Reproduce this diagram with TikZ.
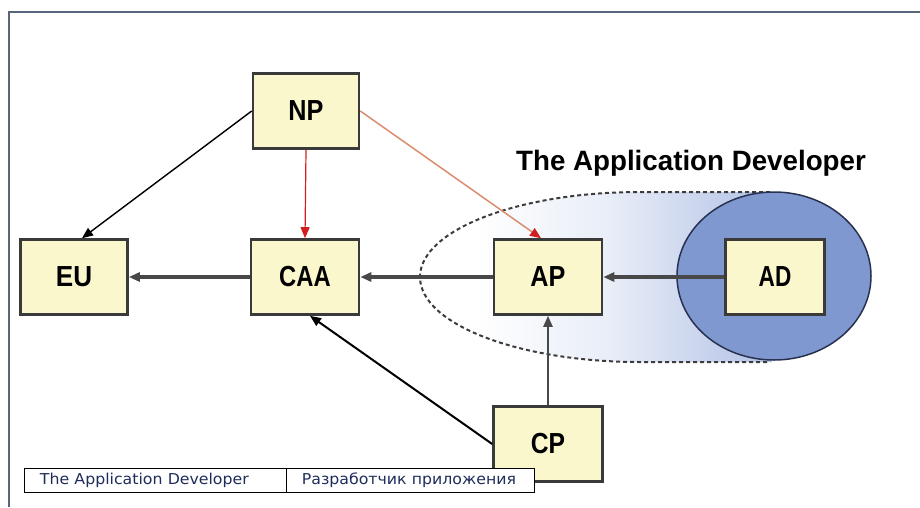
\documentclass[tikz,border=0pt]{standalone}
\usepackage{fontspec}
\setmainfont{Liberation Sans}
\newfontfamily\tablefont{DejaVu Sans}
\usetikzlibrary{arrows.meta}

\definecolor{boxfill}{RGB}{250,247,205}
\definecolor{boxline}{RGB}{58,58,58}
\definecolor{framecol}{RGB}{90,100,122}
\definecolor{devblue}{RGB}{128,152,208}
\definecolor{devedge}{RGB}{40,50,80}
\definecolor{fadeblue}{RGB}{178,193,230}
\definecolor{fadelight}{RGB}{232,237,247}
\definecolor{dashcol}{RGB}{60,60,60}
\definecolor{tipred}{RGB}{210,30,30}
\definecolor{salmonline}{RGB}{220,140,110}
\definecolor{linkgray}{RGB}{72,72,72}
\definecolor{tabletext}{RGB}{30,45,90}

% left-to-right fade behind the developer group
\pgfdeclarehorizontalshading{devfade}{100bp}{color(0bp)=(white); color(33bp)=(white); color(52bp)=(fadelight); color(75bp)=(fadeblue); color(100bp)=(fadeblue)}

\tikzset{
  actor/.style={draw=boxline, line width=2.6pt, fill=boxfill, minimum height=75pt,
    inner sep=0pt, font=\fontsize{29}{29}\selectfont\bfseries},
  tip/.style={-{Triangle[length=11pt,width=9pt]}},
  thinlink/.style={tip, draw=black, line width=1.4pt},
  flowlink/.style={tip, draw=linkgray, line width=3.2pt},
  uplink/.style={tip, draw=linkgray, line width=2.4pt},
  redlink/.style={-{Triangle[length=11pt,width=9pt,color=tipred]}, draw=tipred, line width=1.2pt},
  salmonlink/.style={-{Triangle[length=11pt,width=9pt,color=tipred]}, draw=salmonline, line width=1.5pt},
  cell/.style={draw=black, line width=0.9pt, fill=white, minimum height=24pt, inner ysep=0pt,
    align=left, text=tabletext, font=\tablefont\fontsize{15}{15}\selectfont},
}
\newcommand{\squeeze}[2]{\scalebox{#1}[1]{#2}}
\newcommand{\wide}[1]{\scalebox{1.05}[1]{#1}}

\begin{document}
\begin{tikzpicture}[x=1pt,y=-1pt]
  \useasboundingbox (0,0) rectangle (920,507);

  % outer frame (left and top edges)
  \draw[framecol, line width=1.6pt] (9,507) -- (9,12) -- (920,12);

  % developer group: faded capsule, dashed outline, solid ellipse
  \path[shading=devfade] (772,192) -- (640,192)
     arc[start angle=90, end angle=270, x radius=220pt, y radius=85pt] -- (772,362) -- cycle;
  \draw[dashcol, line width=2pt, dash pattern=on 4pt off 3pt] (770,192) -- (640,192)
     arc[start angle=90, end angle=270, x radius=220pt, y radius=85pt] -- (770,362);
  \draw[devedge, line width=1.5pt, fill=devblue] (774,276) ellipse[x radius=97pt, y radius=84pt];

  \node[font=\fontsize{28}{28}\selectfont\bfseries] (title) at (691,163) {\squeeze{0.99}{The Application Developer}};

  % actors
  \node[actor, minimum width=106pt] (np)  at (306,111) {\squeeze{0.87}{NP}};
  \node[actor, minimum width=107pt] (eu)  at (74,277)  {\squeeze{0.9}{EU}};
  \node[actor, minimum width=108pt] (caa) at (305,277) {\squeeze{0.82}{CAA}};
  \node[actor, minimum width=108pt] (ap)  at (548,277) {\squeeze{0.87}{AP}};
  \node[actor, minimum width=99pt]  (ad)  at (775,277) {\squeeze{0.78}{AD}};
  \node[actor, minimum width=109pt] (cp)  at (548,444) {\squeeze{0.85}{CP}};

  % relations
  \draw[thinlink] (np.west) -- ([xshift=8pt]eu.north);
  \draw[redlink] (np.south) -- (caa.north);
  \draw[salmonlink] (np.east) -- ([xshift=-7pt]ap.north);
  \draw[flowlink] (caa.west) -- (eu.east);
  \draw[flowlink] (ap.west) -- (caa.east);
  \draw[flowlink] (ad.west) -- (ap.east);
  \draw[uplink] (cp.north) -- (ap.south);
  \draw[thinlink, line width=2pt] (cp.west) -- ([xshift=5pt]caa.south);

  % glossary table
  \node[cell, anchor=north west, text width=230pt, inner xsep=16pt] (en) at (23.5,468)
    {\wide{The Application Developer}};
  \node[cell, anchor=north west, text width=218pt, inner xsep=15pt] (ru) at (en.north east)
    {\wide{Разработчик приложения}};
\end{tikzpicture}
\end{document}
